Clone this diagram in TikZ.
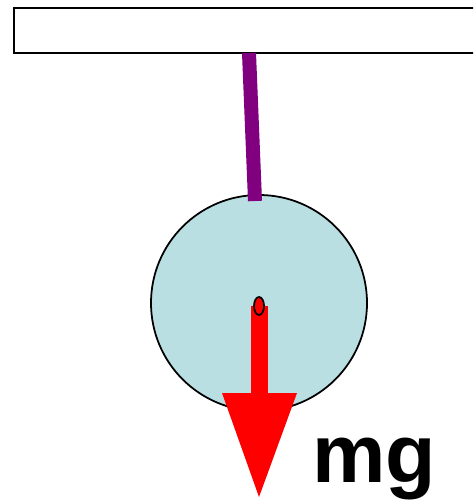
\documentclass[tikz,border=0pt]{standalone}
\usepackage{fontspec}
\setsansfont{Liberation Sans}
\usetikzlibrary{shapes.geometric}
\definecolor{ballblue}{RGB}{186,223,227}
\definecolor{rodpurple}{RGB}{128,0,128}

\begin{document}
\begin{tikzpicture}[x=0.02cm, y=-0.02cm,
    ceil/.style={draw, line width=1.2pt, fill=white},
    rod/.style={draw=rodpurple, line width=0.28cm},
    ball/.style={draw, line width=1pt, fill=ballblue},
    force/.style={fill=red},
    pivot/.style={draw, line width=1pt, fill=red, ellipse, minimum width=0.2cm, minimum height=0.36cm, inner sep=0pt},
    lbl/.style={font=\sffamily\bfseries\fontsize{47}{47}\selectfont, anchor=base west, inner sep=0pt}
  ]
  \clip (0,0) rectangle (473,502);

  % Support bar.
  \draw[ceil] (14,8) rectangle (490,53);

  % Hanging ball and its rod.
  \coordinate (top) at (249,53);
  \coordinate (hook) at (255,201);
  \coordinate (c) at (259,303);
  \draw[ball] (c) circle[radius=108];
  \draw[rod] (top) -- (hook);

  % Weight vector.
  \fill[force] (251,306) rectangle (268,394);
  \fill[force] (222,393) -- (297,393) -- (259,497) -- cycle;
  \node[pivot] (g) at (259,306) {};

  \node[lbl] (mg) at (312,482) {mg};
\end{tikzpicture}
\end{document}
